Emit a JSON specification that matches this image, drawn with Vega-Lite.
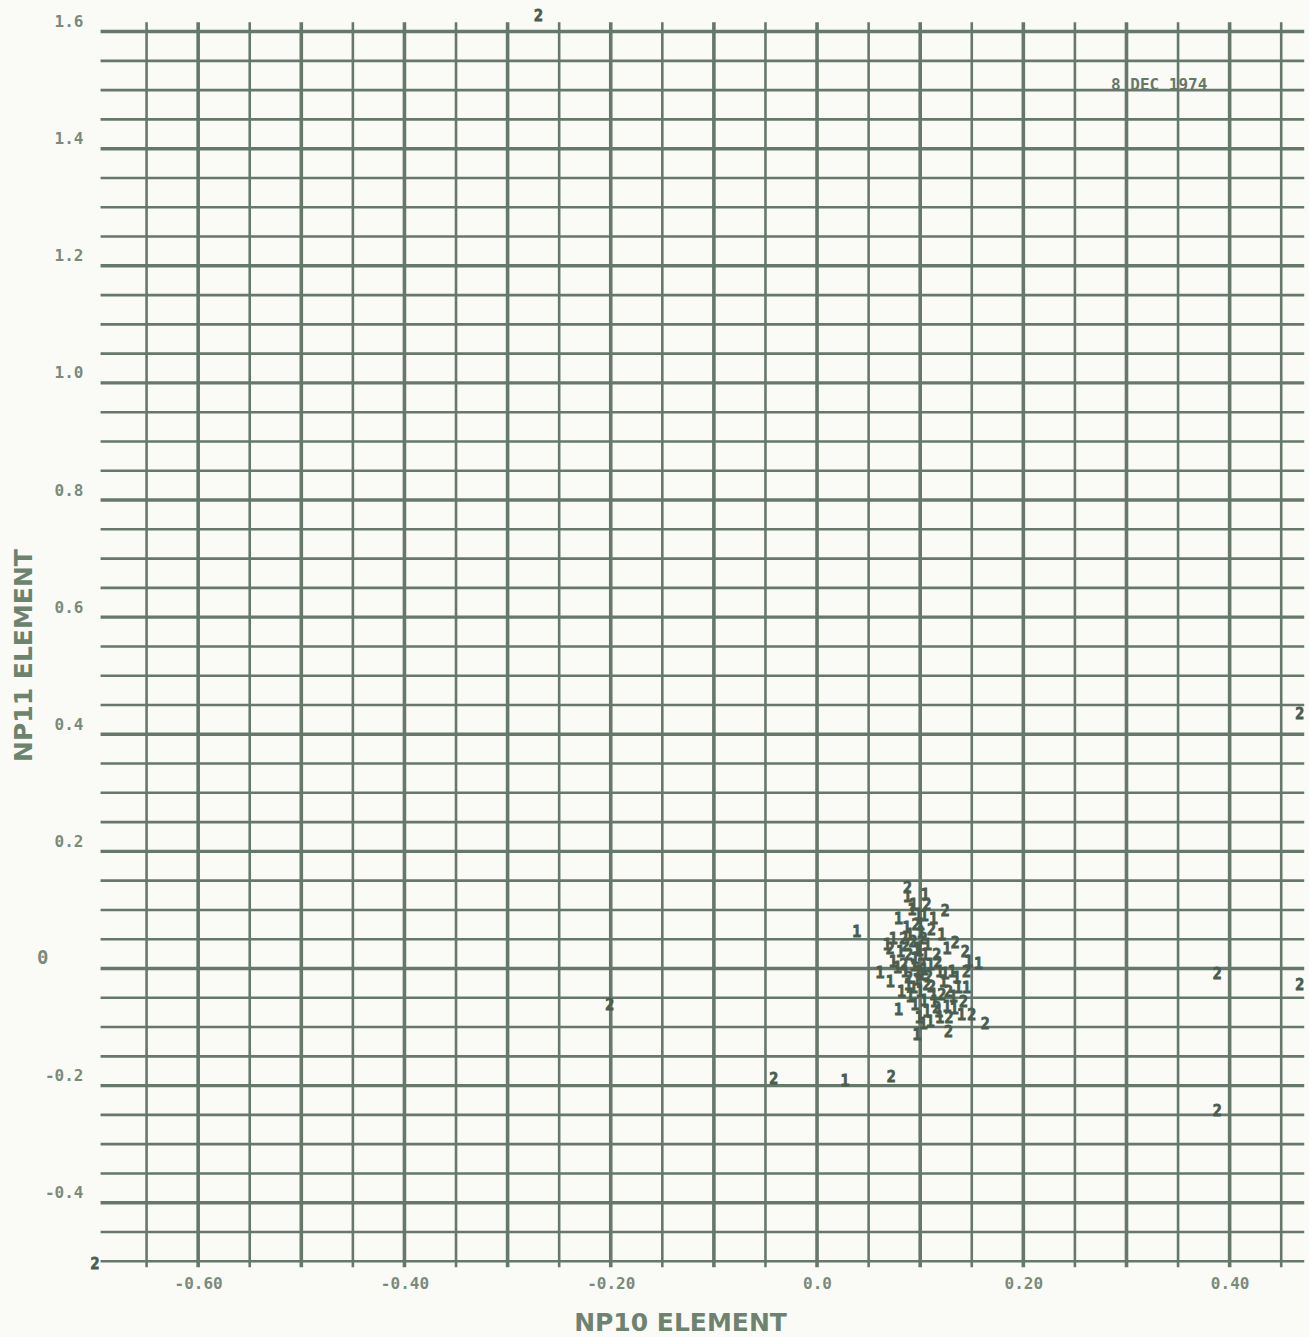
{
  "$schema": "https://vega.github.io/schema/vega-lite/v6.json",
  "width": 1212,
  "height": 1259,
  "autosize": {"type": "none"},
  "padding": {"left": 95, "top": 14, "right": 2, "bottom": 64},
  "background": "#fafbf7",
  "datasets": {
    "hgrid": [
      {"gy": -0.5}, {"gy": -0.45}, {"gy": -0.4}, {"gy": -0.35}, {"gy": -0.3}, {"gy": -0.25}, {"gy": -0.2}, {"gy": -0.15}, {"gy": -0.1}, {"gy": -0.05},
      {"gy": 0}, {"gy": 0.05}, {"gy": 0.1}, {"gy": 0.15}, {"gy": 0.2}, {"gy": 0.25}, {"gy": 0.3}, {"gy": 0.35}, {"gy": 0.4}, {"gy": 0.45},
      {"gy": 0.5}, {"gy": 0.55}, {"gy": 0.6}, {"gy": 0.65}, {"gy": 0.7}, {"gy": 0.75}, {"gy": 0.8}, {"gy": 0.85}, {"gy": 0.9}, {"gy": 0.95},
      {"gy": 1.0}, {"gy": 1.05}, {"gy": 1.1}, {"gy": 1.15}, {"gy": 1.2}, {"gy": 1.25}, {"gy": 1.3}, {"gy": 1.35}, {"gy": 1.4}, {"gy": 1.45},
      {"gy": 1.5}, {"gy": 1.55}, {"gy": 1.6}
    ],
    "vgrid": [
      {"gx": -0.65}, {"gx": -0.6}, {"gx": -0.55}, {"gx": -0.5}, {"gx": -0.45}, {"gx": -0.4}, {"gx": -0.35}, {"gx": -0.3}, {"gx": -0.25}, {"gx": -0.2},
      {"gx": -0.15}, {"gx": -0.1}, {"gx": -0.05}, {"gx": 0}, {"gx": 0.05}, {"gx": 0.1}, {"gx": 0.15}, {"gx": 0.2}, {"gx": 0.25}, {"gx": 0.3},
      {"gx": 0.35}, {"gx": 0.4}, {"gx": 0.45}
    ],
    "points": [
      {"s": "2", "x": -0.27, "y": 1.626},
      {"s": "2", "x": -0.70, "y": -0.505},
      {"s": "2", "x": 0.468, "y": 0.434},
      {"s": "2", "x": 0.468, "y": -0.028},
      {"s": "2", "x": 0.388, "y": -0.010},
      {"s": "2", "x": 0.388, "y": -0.243},
      {"s": "2", "x": -0.201, "y": -0.062},
      {"s": "2", "x": -0.042, "y": -0.188},
      {"s": "1", "x": 0.027, "y": -0.192},
      {"s": "2", "x": 0.072, "y": -0.185},
      {"s": "2", "x": 0.0877, "y": 0.137},
      {"s": "1", "x": 0.0877, "y": 0.122},
      {"s": "1", "x": 0.1048, "y": 0.125},
      {"s": "2", "x": 0.1065, "y": 0.108},
      {"s": "2", "x": 0.1242, "y": 0.098},
      {"s": "1", "x": 0.079, "y": 0.085},
      {"s": "1", "x": 0.0386, "y": 0.0625},
      {"s": "1", "x": 0.0984, "y": 0.091},
      {"s": "1", "x": 0.121, "y": 0.057},
      {"s": "1", "x": 0.126, "y": 0.034},
      {"s": "2", "x": 0.134, "y": 0.043},
      {"s": "1", "x": 0.074, "y": 0.051},
      {"s": "2", "x": 0.084, "y": 0.051},
      {"s": "1", "x": 0.090, "y": 0.057},
      {"s": "2", "x": 0.071, "y": 0.034},
      {"s": "1", "x": 0.081, "y": 0.028},
      {"s": "2", "x": 0.089, "y": 0.023},
      {"s": "1", "x": 0.097, "y": 0.034},
      {"s": "2", "x": 0.103, "y": 0.051},
      {"s": "1", "x": 0.105, "y": 0.023},
      {"s": "1", "x": 0.110, "y": 0.006},
      {"s": "2", "x": 0.1436, "y": 0.028},
      {"s": "1", "x": 0.147, "y": 0.011},
      {"s": "1", "x": 0.1565, "y": 0.0085},
      {"s": "1", "x": 0.074, "y": 0.011},
      {"s": "2", "x": 0.084, "y": 0.006},
      {"s": "1", "x": 0.061, "y": -0.0085},
      {"s": "1", "x": 0.071, "y": -0.023},
      {"s": "2", "x": 0.089, "y": -0.017},
      {"s": "1", "x": 0.0935, "y": -0.034},
      {"s": "1", "x": 0.1016, "y": -0.011},
      {"s": "2", "x": 0.1065, "y": -0.028},
      {"s": "1", "x": 0.113, "y": -0.045},
      {"s": "1", "x": 0.1226, "y": -0.023},
      {"s": "2", "x": 0.1275, "y": -0.040},
      {"s": "1", "x": 0.1355, "y": -0.017},
      {"s": "1", "x": 0.137, "y": -0.034},
      {"s": "2", "x": 0.142, "y": -0.057},
      {"s": "1", "x": 0.0903, "y": -0.048},
      {"s": "1", "x": 0.079, "y": -0.071},
      {"s": "1", "x": 0.1065, "y": -0.074},
      {"s": "2", "x": 0.116, "y": -0.068},
      {"s": "1", "x": 0.126, "y": -0.065},
      {"s": "1", "x": 0.140, "y": -0.080},
      {"s": "2", "x": 0.150, "y": -0.080},
      {"s": "2", "x": 0.163, "y": -0.094},
      {"s": "2", "x": 0.1275, "y": -0.108},
      {"s": "1", "x": 0.097, "y": -0.114},
      {"s": "1", "x": 0.100, "y": 0.074},
      {"s": "2", "x": 0.1016, "y": 0.006},
      {"s": "1", "x": 0.098, "y": -0.006},
      {"s": "1", "x": 0.095, "y": 0.017},
      {"s": "1", "x": 0.113, "y": 0.085},
      {"s": "2", "x": 0.116, "y": 0.023},
      {"s": "1", "x": 0.119, "y": -0.006},
      {"s": "1", "x": 0.131, "y": -0.006},
      {"s": "1", "x": 0.132, "y": -0.048},
      {"s": "1", "x": 0.119, "y": -0.085},
      {"s": "1", "x": 0.1097, "y": -0.091},
      {"s": "1", "x": 0.0887, "y": -0.028},
      {"s": "1", "x": 0.0855, "y": -0.006},
      {"s": "1", "x": 0.068, "y": 0.040},
      {"s": "2", "x": 0.145, "y": -0.006},
      {"s": "1", "x": 0.145, "y": -0.034},
      {"s": "1", "x": 0.0935, "y": 0.108},
      {"s": "1", "x": 0.092, "y": 0.100},
      {"s": "2", "x": 0.096, "y": 0.075},
      {"s": "1", "x": 0.104, "y": 0.090},
      {"s": "1", "x": 0.101, "y": 0.060},
      {"s": "2", "x": 0.093, "y": 0.045},
      {"s": "1", "x": 0.107, "y": 0.040},
      {"s": "1", "x": 0.099, "y": 0.030},
      {"s": "2", "x": 0.086, "y": 0.038},
      {"s": "1", "x": 0.094, "y": 0.005},
      {"s": "1", "x": 0.104, "y": -0.002},
      {"s": "2", "x": 0.108, "y": -0.015},
      {"s": "1", "x": 0.097, "y": -0.020},
      {"s": "1", "x": 0.100, "y": -0.040},
      {"s": "2", "x": 0.111, "y": -0.032},
      {"s": "1", "x": 0.104, "y": -0.055},
      {"s": "1", "x": 0.095, "y": -0.062},
      {"s": "1", "x": 0.114, "y": -0.058},
      {"s": "2", "x": 0.121, "y": -0.045},
      {"s": "1", "x": 0.118, "y": -0.075},
      {"s": "1", "x": 0.103, "y": -0.095},
      {"s": "1", "x": 0.099, "y": -0.085},
      {"s": "2", "x": 0.128, "y": -0.085},
      {"s": "1", "x": 0.133, "y": -0.070},
      {"s": "1", "x": 0.124, "y": -0.010},
      {"s": "2", "x": 0.117, "y": 0.010},
      {"s": "1", "x": 0.082, "y": -0.040},
      {"s": "1", "x": 0.078, "y": 0.000},
      {"s": "1", "x": 0.087, "y": 0.070},
      {"s": "2", "x": 0.111, "y": 0.065}
    ],
    "stamp": [
      {"t": "8 DEC 1974", "x": 0.285, "y": 1.5}
    ]
  },
  "layer": [
    {
      "data": {"name": "hgrid"},
      "mark": {"type": "rule", "color": "#66786a"},
      "encoding": {
        "y": {"field": "gy", "type": "quantitative", "scale": {"domain": [-0.52, 1.63], "nice": false, "zero": false}},
        "x": {"datum": -0.6946, "type": "quantitative", "scale": {"domain": [-0.7, 0.475], "nice": false, "zero": false}},
        "x2": {"datum": 0.4723},
        "strokeWidth": {"condition": {"test": "abs(datum.gy*5 - round(datum.gy*5)) < 0.01", "value": 3.4}, "value": 2.6}
      }
    },
    {
      "data": {"name": "vgrid"},
      "mark": {"type": "rule", "color": "#66786a"},
      "encoding": {
        "x": {"field": "gx", "type": "quantitative", "scale": {"domain": [-0.7, 0.475], "nice": false, "zero": false}},
        "y": {"datum": -0.51, "type": "quantitative", "scale": {"domain": [-0.52, 1.63], "nice": false, "zero": false}},
        "y2": {"datum": 1.616},
        "strokeWidth": {"condition": {"test": "abs(datum.gx*10 - round(datum.gx*10)) < 0.01", "value": 3.6}, "value": 2.6}
      }
    },
    {
      "data": {"name": "points"},
      "mark": {"type": "text", "font": "DejaVu Sans Mono", "fontWeight": "bold", "fontSize": 15, "align": "center", "baseline": "middle", "color": "#4b5d4e", "stroke": "#4b5d4e", "strokeWidth": 0.8},
      "encoding": {
        "x": {
          "field": "x", "type": "quantitative",
          "scale": {"domain": [-0.7, 0.475], "nice": false, "zero": false},
          "axis": {
            "values": [-0.6, -0.4, -0.2, 0, 0.2, 0.4],
            "labelExpr": "datum.value == 0 ? '0.0' : (datum.value < 0 ? '-' + format(-datum.value, '.2f') : format(datum.value, '.2f'))",
            "grid": false, "ticks": false, "domain": false,
            "labelPadding": 2, "labelBaseline": "top",
            "labelFont": "DejaVu Sans Mono", "labelFontWeight": "bold", "labelFontSize": 16, "labelColor": "#7a8a7c",
            "title": "NP10 ELEMENT", "titleFont": "DejaVu Sans", "titleFontWeight": "bold", "titleFontSize": 25, "titleColor": "#6d836f",
            "titleX": 585, "titleY": 57, "titleAlign": "center", "titleBaseline": "alphabetic"
          }
        },
        "y": {
          "field": "y", "type": "quantitative",
          "scale": {"domain": [-0.52, 1.63], "nice": false, "zero": false},
          "axis": {
            "values": [-0.4, -0.2, 0, 0.2, 0.4, 0.6, 0.8, 1.0, 1.2, 1.4, 1.6],
            "labelExpr": "datum.value == 0 ? '0' : (datum.value < 0 ? '-' + format(-datum.value, '.1f') : format(datum.value, '.1f'))",
            "grid": false, "ticks": false, "domain": false,
            "labelPadding": {"condition": {"test": "datum.value == 0", "value": 47}, "value": 12},
            "labelFontSize": {"condition": {"test": "datum.value == 0", "value": 19}, "value": 16},
            "labelBaseline": "alphabetic", "labelOffset": -5, "labelAlign": "right",
            "labelFont": "DejaVu Sans Mono", "labelFontWeight": "bold", "labelColor": "#7a8a7c",
            "title": "NP11 ELEMENT", "titleFont": "DejaVu Sans", "titleFontWeight": "bold", "titleFontSize": 25, "titleColor": "#6d836f",
            "titleX": -64, "titleY": 641, "titleAlign": "center", "titleBaseline": "alphabetic", "titleAngle": 270
          }
        },
        "text": {"field": "s", "type": "nominal"}
      }
    },
    {
      "data": {"name": "stamp"},
      "mark": {"type": "text", "font": "DejaVu Sans Mono", "fontWeight": "bold", "fontSize": 16, "align": "left", "baseline": "alphabetic", "color": "#667866"},
      "encoding": {
        "x": {"field": "x", "type": "quantitative", "scale": {"domain": [-0.7, 0.475], "nice": false, "zero": false}},
        "y": {"field": "y", "type": "quantitative", "scale": {"domain": [-0.52, 1.63], "nice": false, "zero": false}},
        "text": {"field": "t", "type": "nominal"}
      }
    }
  ],
  "config": {"view": {"stroke": null}}
}
